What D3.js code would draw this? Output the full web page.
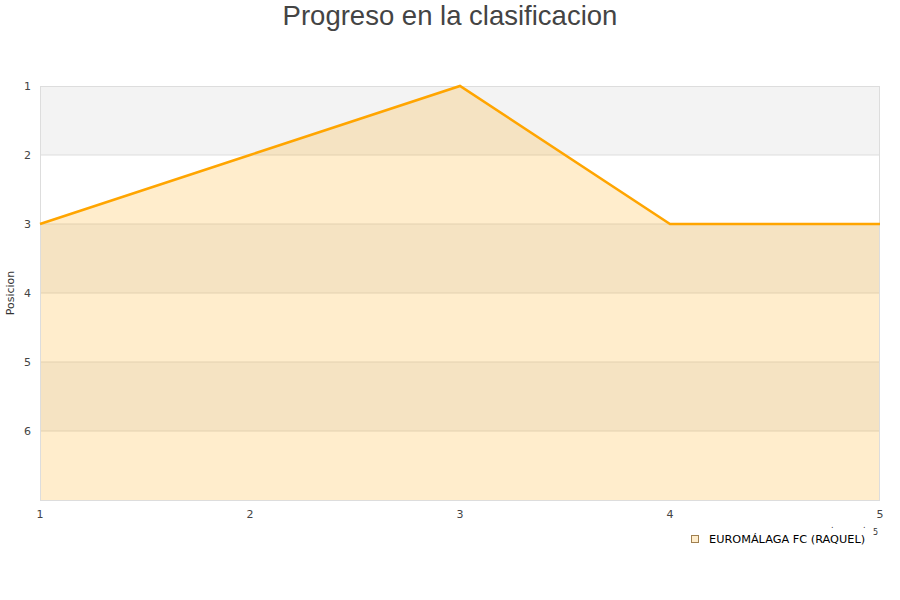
<!DOCTYPE html>
<html>
<head>
<meta charset="utf-8">
<script src="https://cdn.jsdelivr.net/npm/d3@7"></script>
<style>
  body { margin: 0; background: #fff; }
  text { font-family: "DejaVu Sans", sans-serif; }
</style>
</head>
<body>
<svg id="chart" width="900" height="600"></svg>
<script>
// data
const jornadas = [1, 2, 3, 4, 5];
const posiciones = [3, 2, 1, 3, 3];
const yTicks = [1, 2, 3, 4, 5, 6];
const teamName = "EUROMÁLAGA FC (RAQUEL)";

const svg = d3.select("#chart");
const plotLeft = 40, plotRight = 880, plotTop = 86, plotBottom = 500;

const x = d3.scaleLinear().domain([1, 5]).range([plotLeft, plotRight]);
const y = d3.scaleLinear().domain([1, 7]).range([plotTop, plotBottom]);

// title
svg.append("text")
    .attr("x", 450).attr("y", 25)
    .attr("text-anchor", "middle")
    .style("font-family", "'Liberation Sans', Arial, sans-serif")
    .style("font-size", "27.5px")
    .attr("fill", "#444")
    .text("Progreso en la clasificacion");

// alternating bands
const bands = d3.range(1, 7);
svg.selectAll("rect.band").data(bands).enter().append("rect")
    .attr("class", "band")
    .attr("x", plotLeft)
    .attr("y", d => y(d))
    .attr("width", plotRight - plotLeft)
    .attr("height", d => y(d + 1) - y(d))
    .attr("fill", (d, i) => i % 2 === 0 ? "#f3f3f3" : "#ffffff");

// grid lines
svg.selectAll("line.grid").data(yTicks.slice(1)).enter().append("line")
    .attr("x1", plotLeft).attr("x2", plotRight)
    .attr("y1", d => y(d)).attr("y2", d => y(d))
    .attr("stroke", "#dddddd").attr("stroke-width", 1);

// area under the line
const area = d3.area()
    .x((d, i) => x(jornadas[i]))
    .y0(y(7))
    .y1(d => y(d));
svg.append("path")
    .datum(posiciones)
    .attr("d", area)
    .attr("fill", "#ffa500")
    .attr("fill-opacity", 0.2);

// plot border
svg.append("rect")
    .attr("x", plotLeft + 0.5).attr("y", plotTop + 0.5)
    .attr("width", plotRight - plotLeft - 1).attr("height", plotBottom - plotTop)
    .attr("fill", "none").attr("stroke", "#dddddd");

// line
const line = d3.line()
    .x((d, i) => x(jornadas[i]))
    .y(d => y(d));
svg.append("path")
    .datum(posiciones)
    .attr("d", line)
    .attr("fill", "none")
    .attr("stroke", "#ffa500")
    .attr("stroke-width", 2.5);

// y tick labels
svg.selectAll("text.ytick").data(yTicks).enter().append("text")
    .attr("class", "ytick")
    .attr("x", 31).attr("y", d => y(d))
    .attr("dy", "0.35em")
    .attr("text-anchor", "end")
    .style("font-size", "11px")
    .attr("fill", "#444")
    .text(d => d);

// x tick labels
svg.selectAll("text.xtick").data(jornadas).enter().append("text")
    .attr("class", "xtick")
    .attr("x", d => x(d)).attr("y", 518)
    .attr("text-anchor", "middle")
    .style("font-size", "11px")
    .attr("fill", "#444")
    .text(d => d);

// y axis title
svg.append("text")
    .attr("transform", "translate(14," + 293 + ") rotate(-90)")
    .attr("text-anchor", "middle")
    .style("font-size", "11px")
    .attr("fill", "#333")
    .text("Posicion");

// stray clipped x axis title bits
svg.append("text").attr("x", 831).attr("y", 528)
    .style("font-size", "8px").attr("fill", "#333").text(".");
svg.append("text").attr("x", 863).attr("y", 528)
    .style("font-size", "8px").attr("fill", "#333").text(".");
svg.append("text").attr("x", 873).attr("y", 535)
    .style("font-size", "8px").attr("fill", "#333").text("5");

// legend
svg.append("rect")
    .attr("x", 691.5).attr("y", 535.5)
    .attr("width", 7).attr("height", 7)
    .attr("fill", "#ffedcc")
    .attr("stroke", "#a08050").attr("stroke-width", 1);
svg.append("text")
    .attr("x", 709).attr("y", 543)
    .style("font-size", "11.3px")
    .attr("fill", "#000")
    .text(teamName);
</script>
</body>
</html>
